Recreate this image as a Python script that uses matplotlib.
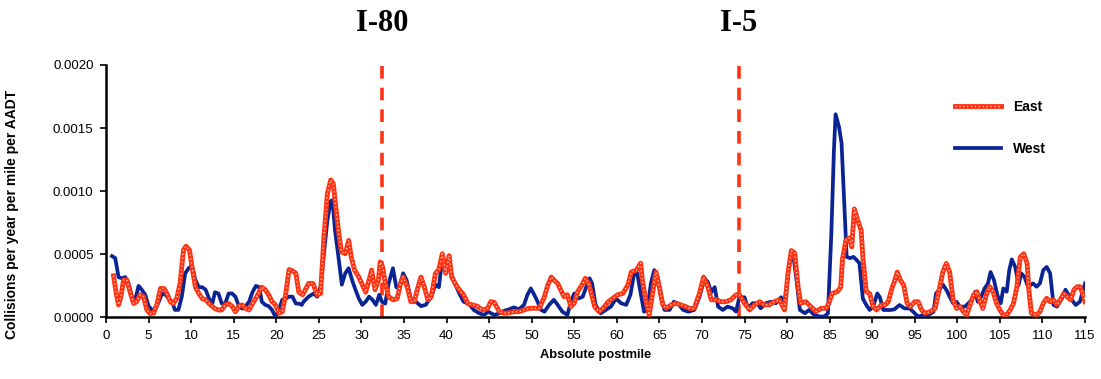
import numpy as np
import matplotlib
matplotlib.use("Agg")
import matplotlib.pyplot as plt
from matplotlib.ticker import FormatStrFormatter

# collision rate along the corridor, units of 1e-4 collisions / yr / mile / AADT
west_pm = [0.7, 1.08, 1.47, 1.86, 2.25, 2.65, 3.04, 3.43, 3.82, 4.2, 4.6, 5.0, 5.4, 5.8,
           6.2, 6.57, 7.0, 7.35, 7.75, 8.1, 8.5, 8.9, 9.3, 9.7, 10.1, 10.5, 10.9, 11.3,
           11.7, 12.1, 12.45, 12.8, 13.2, 13.6, 14.0, 14.4, 14.8, 15.2, 15.6, 16.0, 16.4,
           16.8, 17.2, 17.6, 18.0, 18.3, 18.7, 19.1, 19.5, 19.9, 20.3, 20.7, 21.1, 21.5,
           21.9, 22.3, 22.65, 23.0, 23.2, 23.8, 24.4, 24.8, 25.2, 25.6, 26.0, 26.4, 26.6,
           26.9, 27.3, 27.7, 28.1, 28.5, 28.9, 29.3, 29.7, 30.1, 30.5, 30.9, 31.3, 31.7,
           32.1, 32.4, 32.8, 33.2, 33.7, 34.1, 34.4, 34.9, 35.3, 35.8, 36.4, 37.0, 37.55,
           38.2, 38.7, 39.1, 39.5, 39.9, 40.4, 40.9, 41.5, 42.0, 42.6, 43.2, 43.8, 44.4,
           44.9, 45.6, 46.2, 46.8, 47.35, 47.9, 48.5, 49.1, 49.5, 49.9, 50.3, 50.7, 51.1,
           51.5, 52.05, 52.6, 53.05, 53.6, 54.2, 54.6, 55.0, 55.5, 56.0, 56.4, 56.8, 57.1,
           57.5, 58.1, 58.7, 59.3, 59.9, 60.5, 61.1, 61.6, 62.0, 62.4, 62.7, 63.2, 63.6,
           64.0, 64.4, 64.8, 65.2, 65.6, 66.2, 66.7, 67.3, 67.8, 68.4, 69.1, 69.7, 70.3,
           70.7, 71.1, 71.5, 71.9, 72.45, 73.0, 73.6, 74.0, 74.4, 75.0, 75.4, 75.95, 76.5,
           76.9, 77.5, 78.1, 78.7, 79.3, 79.7, 80.3, 80.7, 81.1, 81.5, 82.1, 82.6, 83.2,
           83.8, 84.4, 84.8, 85.2, 85.5, 85.7, 86.1, 86.4, 86.7, 87.0, 87.4, 87.8, 88.1,
           88.5, 88.9, 89.3, 89.7, 90.1, 90.6, 90.9, 91.3, 92.1, 92.6, 93.2, 93.8, 94.4,
           95.0, 95.4, 96.0, 96.6, 97.2, 97.5, 97.9, 98.3, 98.7, 99.1, 99.5, 99.9, 100.3,
           100.9, 101.3, 101.7, 102.1, 102.4, 102.8, 103.2, 103.6, 103.9, 104.3, 104.7,
           105.1, 105.4, 105.8, 106.1, 106.4, 106.8, 107.2, 107.5, 107.9, 108.3, 108.9,
           109.3, 109.7, 110.1, 110.5, 110.9, 111.3, 111.7, 112.3, 112.7, 113.3, 113.9,
           114.4, 115.0]
west_rate = [4.86, 4.7, 3.2, 3.1, 3.2, 2.7, 1.65, 1.4, 2.5, 2.2, 1.8, 0.9, 0.6, 0.7,
             1.25, 1.9, 1.8, 1.5, 1.25, 0.6, 0.6, 1.65, 3.5, 3.9, 4.1, 2.97, 2.4, 2.4,
             2.2, 1.5, 1.0, 2.0, 1.9, 1.1, 1.1, 1.9, 1.9, 1.65, 0.9, 0.7, 0.9,
             1.25, 2.0, 2.5, 2.4, 1.25, 1.0, 0.9, 0.6, 0.05, 0.6, 1.4, 1.5, 1.65,
             1.65, 1.1, 1.1, 1.0, 1.25, 1.65, 1.9, 1.65, 2.4, 5.05, 7.7, 9.2, 9.3,
             6.9, 4.8, 2.6, 3.5, 3.9, 2.97, 2.2, 1.5, 1.0, 1.25, 1.65, 1.4, 1.0,
             1.8, 1.25, 1.1, 2.7, 3.9, 2.4, 2.3, 3.5, 2.97, 1.5, 1.25, 0.9, 1.0,
             1.65, 2.6, 2.4, 4.7, 4.0, 3.8, 2.8, 1.9, 1.25, 1.1, 0.6, 0.35, 0.2,
             0.45, 0.2, 0.33, 0.54, 0.65, 0.8, 0.65, 1.0, 1.8, 2.3, 1.8, 1.25, 0.6,
             0.46, 1.0, 1.4, 1.0, 0.46, 0.2, 1.25, 1.9, 1.5, 1.65, 2.4, 3.1, 2.7,
             1.0, 0.33, 0.6, 0.86, 1.5, 1.13, 1.0, 1.8, 3.36, 3.5, 2.3, 0.46, 0.6,
             2.7, 3.75, 3.2, 1.65, 0.6, 0.6, 1.25, 1.0, 0.6, 0.46, 0.6, 1.6, 3.1,
             2.8, 2.0, 2.4, 0.86, 0.6, 0.86, 0.73, 0.47, 1.6, 1.6, 0.73, 1.13, 1.13,
             0.73, 1.13, 1.25, 1.13, 1.6, 1.13, 4.3, 5.1, 3.0, 0.6, 0.34, 0.6, 0.2,
             0.08, 0.08, 0.34, 6.65, 13.2, 16.1, 15.1, 13.8, 9.3, 4.8, 4.7, 4.8, 4.6,
             4.3, 1.5, 1.0, 0.6, 0.86, 1.9, 1.6, 0.6, 0.59, 0.64, 0.99, 0.72, 0.72,
             0.33, 0.07, 0.2, 0.2, 0.46, 1.9, 2.2, 2.6, 2.2, 1.65, 1.13, 1.25, 0.86,
             0.86, 1.13, 1.4, 2.04, 1.25, 1.65, 2.3, 2.7, 3.6, 2.97, 1.78,
             1.13, 2.3, 2.04, 3.76, 4.6, 4.0, 2.57, 3.5, 3.2, 2.44, 2.7,
             2.44, 2.7, 3.76, 4.0, 3.5, 0.99, 0.86, 1.52, 2.2, 1.52, 0.99,
             1.25, 2.7]

east_pm = [0.88, 1.2, 1.47, 1.75, 2.06, 2.45, 2.84, 3.24, 3.6, 4.0, 4.4, 4.8, 5.2, 5.6,
           6.0, 6.4, 6.8, 7.15, 7.55, 7.9, 8.3, 8.7, 9.1, 9.4, 9.8, 10.1, 10.5, 10.9,
           11.3, 11.7, 12.1, 12.45, 12.8, 13.2, 13.6, 14.0, 14.4, 14.8, 15.2, 15.6, 16.0,
           16.4, 16.8, 17.2, 17.7, 18.3, 18.7, 19.1, 19.5, 19.9, 20.3, 20.7, 21.1, 21.5,
           21.9, 22.3, 22.65, 23.1, 23.8, 24.3, 24.8, 25.2, 25.6, 26.0, 26.4, 26.7, 26.95,
           27.3, 27.65, 28.1, 28.5, 28.8, 29.2, 29.7, 30.1, 30.5, 30.9, 31.2, 31.6, 32.0,
           32.2, 32.5, 32.8, 33.2, 33.7, 34.2, 34.6, 34.9, 35.4, 35.8, 36.2, 36.6, 37.0,
           37.4, 37.8, 38.2, 38.7, 39.1, 39.5, 39.9, 40.3, 40.6, 41.1, 41.5, 42.0, 42.5,
           43.0, 43.6, 44.2, 44.8, 45.2, 45.6, 46.2, 46.8, 47.35, 47.9, 48.5, 49.1, 49.7,
           50.3, 50.9, 51.5, 51.9, 52.3, 52.6, 53.05, 53.4, 53.8, 54.2, 54.6, 55.0, 55.4,
           55.9, 56.3, 56.7, 57.0, 57.4, 57.9, 58.4, 59.0, 59.5, 60.1, 60.7, 61.3, 61.7,
           62.3, 62.8, 63.0, 63.4, 63.8, 64.2, 64.6, 65.0, 65.4, 65.8, 66.4, 67.0, 67.5,
           68.1, 68.6, 69.1, 69.7, 70.2, 70.7, 71.1, 71.7, 72.2, 72.8, 73.4, 74.0, 74.4,
           75.0, 75.6, 76.2, 76.8, 77.3, 77.9, 78.5, 79.1, 79.7, 80.1, 80.5, 80.9, 81.3,
           81.6, 82.2, 82.8, 83.4, 84.0, 84.6, 84.9, 85.3, 85.9, 86.3, 86.5, 86.9, 87.3,
           87.6, 87.9, 88.3, 88.7, 88.9, 89.3, 89.7, 90.1, 90.5, 91.1, 91.5, 91.9, 92.3,
           92.6, 92.95, 93.3, 93.7, 94.1, 94.5, 95.0, 95.4, 95.8, 96.2, 96.8, 97.4, 97.9,
           98.3, 98.7, 99.1, 99.5, 99.9, 100.3, 100.7, 101.1, 101.5, 101.9, 102.3, 102.6,
           103.0, 103.4, 103.8, 104.2, 104.6, 105.0, 105.4, 105.8, 106.2, 106.6, 107.0,
           107.4, 107.8, 108.2, 108.4, 108.7, 109.3, 109.7, 110.1, 110.5, 110.9, 111.3,
           111.7, 112.1, 112.5, 112.9, 113.3, 113.7, 114.1, 114.4, 114.8, 115.0]
east_rate = [3.3, 1.9, 1.0, 1.65, 2.97, 2.97, 2.0, 1.1, 1.25, 1.8, 1.65, 0.6, 0.3, 0.35,
             1.1, 2.3, 2.3, 1.9, 1.25, 1.1, 1.5, 2.7, 5.35, 5.65, 5.35, 4.0, 2.4, 1.9,
             1.5, 1.4, 1.1, 0.9, 0.7, 0.6, 0.6, 1.0, 1.1, 0.9, 0.45, 0.9, 1.0,
             0.7, 0.6, 1.1, 1.65, 2.4, 2.2, 1.8, 1.25, 1.0, 0.35, 0.45, 1.8, 3.8,
             3.7, 3.5, 2.0, 1.8, 2.7, 2.7, 1.8, 1.9, 6.4, 9.8, 10.9, 10.6, 9.0,
             6.9, 5.2, 5.05, 6.1, 4.8, 3.75, 3.2, 2.6, 2.0, 2.97, 3.75, 2.2, 2.97,
             4.4, 4.0, 2.7, 1.65, 1.4, 1.5, 2.7, 3.2, 2.4, 1.25, 1.25, 2.3, 3.2,
             2.4, 1.4, 1.65, 3.5, 3.8, 5.05, 3.5, 4.9, 3.2, 2.6, 2.2, 1.8, 1.1,
             1.0, 0.9, 0.6, 0.7, 1.25, 1.2, 0.46, 0.33, 0.38, 0.46, 0.46, 0.6, 0.73,
             0.73, 0.73, 1.65, 2.57, 3.2, 2.97, 2.7, 2.2, 1.65, 1.8, 0.86, 1.13, 2.05,
             2.57, 3.1, 2.7, 1.9, 0.86, 0.46, 0.73, 1.25, 1.5, 1.8, 1.9, 2.57, 3.6,
             3.75, 4.3, 2.97, 1.4, 0.2, 1.9, 3.6, 2.4, 1.0, 0.73, 1.0, 1.13, 1.0,
             0.86, 0.7, 0.73, 1.9, 3.2, 2.4, 1.4, 1.4, 1.25, 1.25, 1.4, 1.8, 1.8,
             1.13, 0.6, 1.0, 1.25, 1.0, 1.0, 1.25, 1.4, 0.6, 3.5, 5.3, 5.1, 2.4,
             1.13, 1.25, 0.86, 0.47, 0.73, 0.73, 1.13, 1.9, 2.05, 2.4, 4.55, 6.1, 6.3,
             5.6, 8.6, 7.7, 6.9, 4.8, 2.05, 1.9, 0.86, 0.6, 1.0, 0.99, 1.25, 2.3,
             2.83, 3.6, 2.97, 2.57, 1.13, 0.86, 1.25, 1.25, 0.59, 0.33, 0.46, 0.72, 2.3,
             3.6, 4.28, 3.6, 1.4, 0.72, 0.86, 0.46, 0.2, 0.99, 1.78, 2.04, 1.4,
             0.72, 1.78, 2.44, 2.04, 1.13, 0.59, 0.2, 0.2, 0.59, 1.13, 2.44,
             4.8, 5.05, 4.28, 2.2, 0.33, 0.2, 0.46, 1.13, 1.52, 1.25, 1.4,
             0.99, 1.4, 1.9, 1.65, 1.4, 2.2, 2.44, 2.44, 1.78, 1.25]

# freeway interchanges marked on the route
junction_names = ["I-80", "I-5"]
junction_pm = [32.4, 74.3]

x_ticks = list(range(0, 120, 5))
y_ticks = [0.0, 0.0005, 0.0010, 0.0015, 0.0020]

RED = "#FF3311"
NAVY = "#0B2494"

plt.rcParams["font.family"] = ["Liberation Sans", "DejaVu Sans"]

fig = plt.figure(figsize=(11.01, 3.79), dpi=100)
ax = fig.add_axes([0.0963, 0.1623, 0.8892, 0.6662])

west = np.array(west_rate) * 1e-4
east = np.array(east_rate) * 1e-4

w_line, = ax.plot(west_pm, west, color=NAVY, lw=2.7, zorder=3, solid_joinstyle="round")
e_line, = ax.plot(east_pm, east, color=RED, lw=3.5, zorder=4, solid_joinstyle="round")
e_dots, = ax.plot(east_pm, east, color="#FFE0D6", lw=1.0, ls=(0, (0.8, 2.0)), zorder=5)

for name, pm in zip(junction_names, junction_pm):
    ax.plot([pm, pm], [0, 0.00205], color=RED, lw=2.6, ls=(0, (3.5, 2.5)),
            zorder=2, clip_on=False)
    fig.text((106 + pm * 8.513) / 1101, 0.937, name, ha="center", va="center",
             fontsize=22, fontweight="bold", family="Liberation Serif")

ax.set_xlim(0, 115)
ax.set_ylim(0, 0.002)
ax.set_xticks(x_ticks)
ax.set_yticks(y_ticks)
ax.yaxis.set_major_formatter(FormatStrFormatter("%.4f"))
ax.tick_params(axis="both", direction="out", length=4, width=1.2, labelsize=9.5, pad=5)
for side in ["top", "right"]:
    ax.spines[side].set_visible(False)
for side in ["left", "bottom"]:
    ax.spines[side].set_linewidth(1.8)

ax.set_xlabel("Absolute postmile", fontsize=9.3, fontweight="bold", labelpad=5)
fig.text(0.011, 0.433, "Collisions per year per mile per AADT", rotation=90,
         ha="center", va="center", fontsize=10, fontweight="bold")

ax.legend([(e_line, e_dots), w_line], ["East", "West"], loc="center left",
          bbox_to_anchor=(0.86, 0.75), frameon=False, borderpad=0,
          handlelength=3.3, handletextpad=0.9, labelspacing=2.0,
          prop={"size": 10, "weight": "bold"})

fig.savefig("out.png", dpi=100)
